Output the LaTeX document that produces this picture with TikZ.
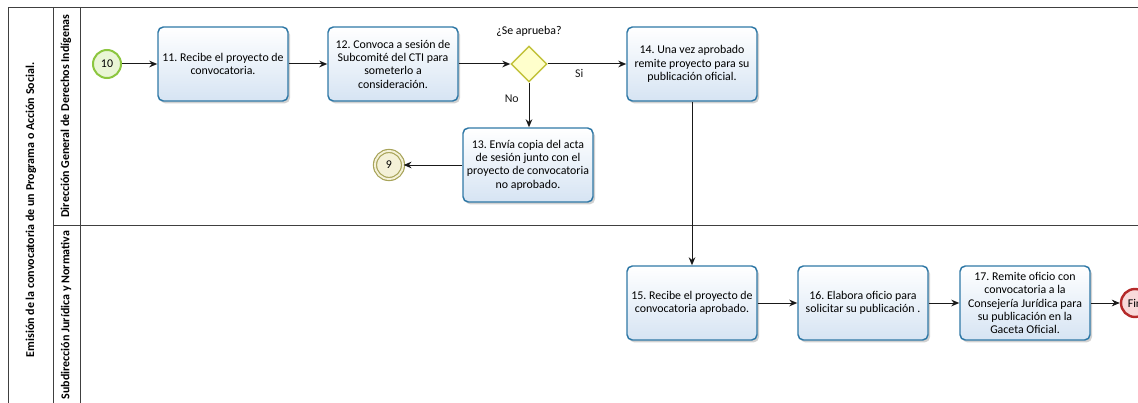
\documentclass[tikz,border=0pt]{standalone}
\usepackage{fontspec}
\setmainfont{Carlito}
\usepackage{xcolor}
\usetikzlibrary{positioning}
\usetikzlibrary{shapes.geometric}
\usetikzlibrary{shadows}
\usetikzlibrary{arrows.meta}
\definecolor{taskline}{HTML}{2F78A6}
\definecolor{taskfill}{HTML}{D6E4F3}
\definecolor{gateline}{HTML}{C2C23A}
\definecolor{gatefill}{HTML}{FFFFCC}
\definecolor{startline}{HTML}{8CC63F}
\definecolor{startfill}{HTML}{EAF6D6}
\definecolor{linkline}{HTML}{A8A45A}
\definecolor{linkfill}{HTML}{F4F1D8}
\definecolor{finline}{HTML}{B52A2A}
\definecolor{finfill}{HTML}{F8DADA}
\newcommand\txtsize{\fontsize{8.9}{10}\selectfont\frenchspacing}

\begin{document}
\begin{tikzpicture}[x=0.75pt, y=-0.75pt,
	task/.style={draw=taskline, line width=1.1pt, rounded corners=4pt, top color=white, bottom color=taskfill,
		minimum width=97.5pt, minimum height=55.5pt, align=center, inner sep=1pt, font=\txtsize,
		drop shadow={shadow xshift=1.5pt, shadow yshift=-1.8pt, opacity=0.18, fill=black}},
	gate/.style={diamond, draw=gateline, line width=1.1pt, fill=gatefill, minimum size=27pt, inner sep=0pt, font=\txtsize},
	startev/.style={circle, draw=startline, line width=1.5pt, fill=startfill, minimum size=21pt, inner sep=0pt, font=\txtsize},
	linkev/.style={circle, draw=linkline, line width=0.9pt, double=linkfill, double distance=1.4pt, fill=linkfill, minimum size=21pt, inner sep=0pt, font=\txtsize},
	finev/.style={circle, draw=finline, line width=1.8pt, fill=finfill, minimum size=21pt, inner sep=0pt, font=\txtsize},
	flow/.style={-{Stealth[length=6pt, width=5pt]}, line width=0.75pt, black!90},
	lane/.style={black!75, line width=0.6pt},
	lanetxt/.style={rotate=90, font=\fontsize{9}{10}\selectfont\bfseries}]
	\useasboundingbox (0,0) rectangle (1138,403);
	\clip (0,0) rectangle (1138,403);
	% pool and lanes
	\draw[lane] (1138,7) -- (8,7) -- (8,403);
	\draw[lane] (53,7) -- (53,403);
	\draw[lane] (80,7) -- (80,403);
	\draw[lane] (53,225) -- (1138,225);
	\node[lanetxt] (pool) at (31,210) {Emisión de la convocatoria de un Programa o Acción Social.};
	\node[lanetxt] (lane1) at (66,116) {Dirección General de Derechos Indígenas};
	\node[lanetxt] (lane2) at (66,315) {Subdirección Jurídica y Normativa};
	% events, tasks, gateway
	\node[startev] (n10) at (107,64) {10};
	\node[task] (t11) at (223,64) {11. Recibe el proyecto de\\convocatoria.};
	\node[task] (t12) at (393,64) {12. Convoca a sesión de\\Subcomité del CTI para\\someterlo a\\consideración.};
	\node[gate, label={[label distance=3pt, font=\txtsize]above:¿Se aprueba?}] (gw) at (529,64) {};
	\node[task] (t14) at (692,64) {14. Una vez aprobado\\remite proyecto para su\\publicación oficial.};
	\node[task] (t13) at (528,165) {13. Envía copia del acta\\de sesión junto con el\\proyecto de convocatoria\\no aprobado.};
	\node[linkev] (e9) at (389,165) {9};
	\node[task] (t15) at (692,303) {15. Recibe el proyecto de\\convocatoria aprobado.};
	\node[task] (t16) at (863,303) {16. Elabora oficio para\\solicitar su publicación .};
	\node[task] (t17) at (1025,303) {17. Remite oficio con\\convocatoria a la\\Consejería Jurídica para\\su publicación en la\\Gaceta Oficial.};
	\node[finev] (fin) at (1135,303) {Fin};
	% flows
	\draw[flow] (n10) -- (t11);
	\draw[flow] (t11) -- (t12);
	\draw[flow] (t12) -- (gw);
	\draw[flow] (gw) -- node[pos=0.4, below, font=\txtsize] {Si} (t14);
	\draw[flow] (gw.south) -- node[pos=0.35, left=4pt, font=\txtsize] {No} (gw.south |- t13.north);
	\draw[flow] (t13) -- (e9);
	\draw[flow] (t14.south) -- (t15.north);
	\draw[flow] (t15) -- (t16);
	\draw[flow] (t16) -- (t17);
	\draw[flow] (t17) -- (fin);
\end{tikzpicture}
\end{document}
